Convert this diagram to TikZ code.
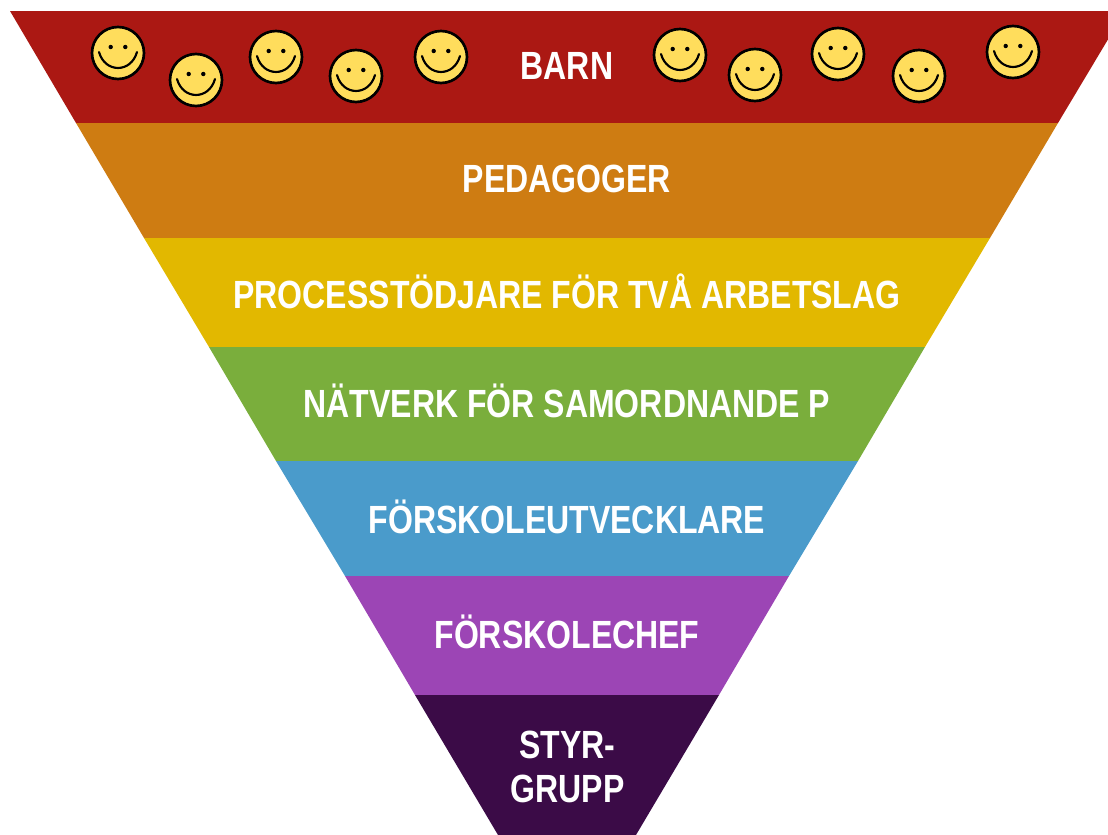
\documentclass[tikz,border=0pt]{standalone}
\usepackage{fontspec}
\setmainfont{Liberation Sans}[FakeStretch=0.814]
\definecolor{cRed}{HTML}{AB1813}
\definecolor{cOrange}{HTML}{CE7C12}
\definecolor{cYellow}{HTML}{E2B800}
\definecolor{cGreen}{HTML}{7AAE3C}
\definecolor{cBlue}{HTML}{4A9BCB}
\definecolor{cPurple}{HTML}{9C45B5}
\definecolor{cDark}{HTML}{3B0B47}
\definecolor{cSmile}{HTML}{FFDD5C}
\tikzset{
  x=0.75pt,y=-0.75pt,
  band/.style={fill=#1,draw=none},
  label/.style={text=white,font=\bfseries\fontsize{29.5pt}{33pt}\selectfont,inner sep=0pt,anchor=base,align=center},
  smiley/.pic={
    \fill[cSmile,draw=black,line width=2pt] (0,0) circle[radius=26];
    \fill[black] (-7.3,-6) circle[radius=2.2] (7.3,-6) circle[radius=2.2];
    \draw[black,line width=1.6pt,line cap=round] (-19,-1) .. controls (-13,20.3) and (13,20.3) .. (19,-1);
  }
}
\begin{document}
\begin{tikzpicture}
\useasboundingbox (0,0) rectangle (1108,835);
\clip (0,0) rectangle (1108,835);
\fill[band=cRed] (10,11) -- (1125,11) -- (1058,123) -- (76,123) -- cycle;
\fill[band=cOrange] (76,123) -- (1058,123) -- (990,238) -- (144,238) -- cycle;
\fill[band=cYellow] (144,238) -- (990,238) -- (925,347) -- (209,347) -- cycle;
\fill[band=cGreen] (209,347) -- (925,347) -- (858,461) -- (276,461) -- cycle;
\fill[band=cBlue] (276,461) -- (858,461) -- (789,576) -- (345,576) -- cycle;
\fill[band=cPurple] (345,576) -- (789,576) -- (719,695) -- (415,695) -- cycle;
\fill[band=cDark] (415,695) -- (719,695) -- (636,835) -- (498,835) -- cycle;
\foreach \px/\py/\nm in {118/53/a,196/80/b,276/57/c,356/76/d,441/57/e,680/55/f,755/75/g,838/54/h,919/76/i,1013/52/j}
  \pic (s\nm) at (\px,\py) {smiley};
\node[label] (barn) at (567,79) {BARN};
\node[label] (ped) at (567,192) {PEDAGOGER};
\node[label] (proc) at (567,308) {PROCESSTÖDJARE FÖR TVÅ ARBETSLAG};
\node[label] (nat) at (567,417) {NÄTVERK FÖR SAMORDNANDE P};
\node[label] (utv) at (567,533) {FÖRSKOLEUTVECKLARE};
\node[label] (chef) at (567,648) {FÖRSKOLECHEF};
\node[label,anchor=center] (styr) at (567.5,767) {STYR-\\GRUPP};
\end{tikzpicture}
\end{document}
